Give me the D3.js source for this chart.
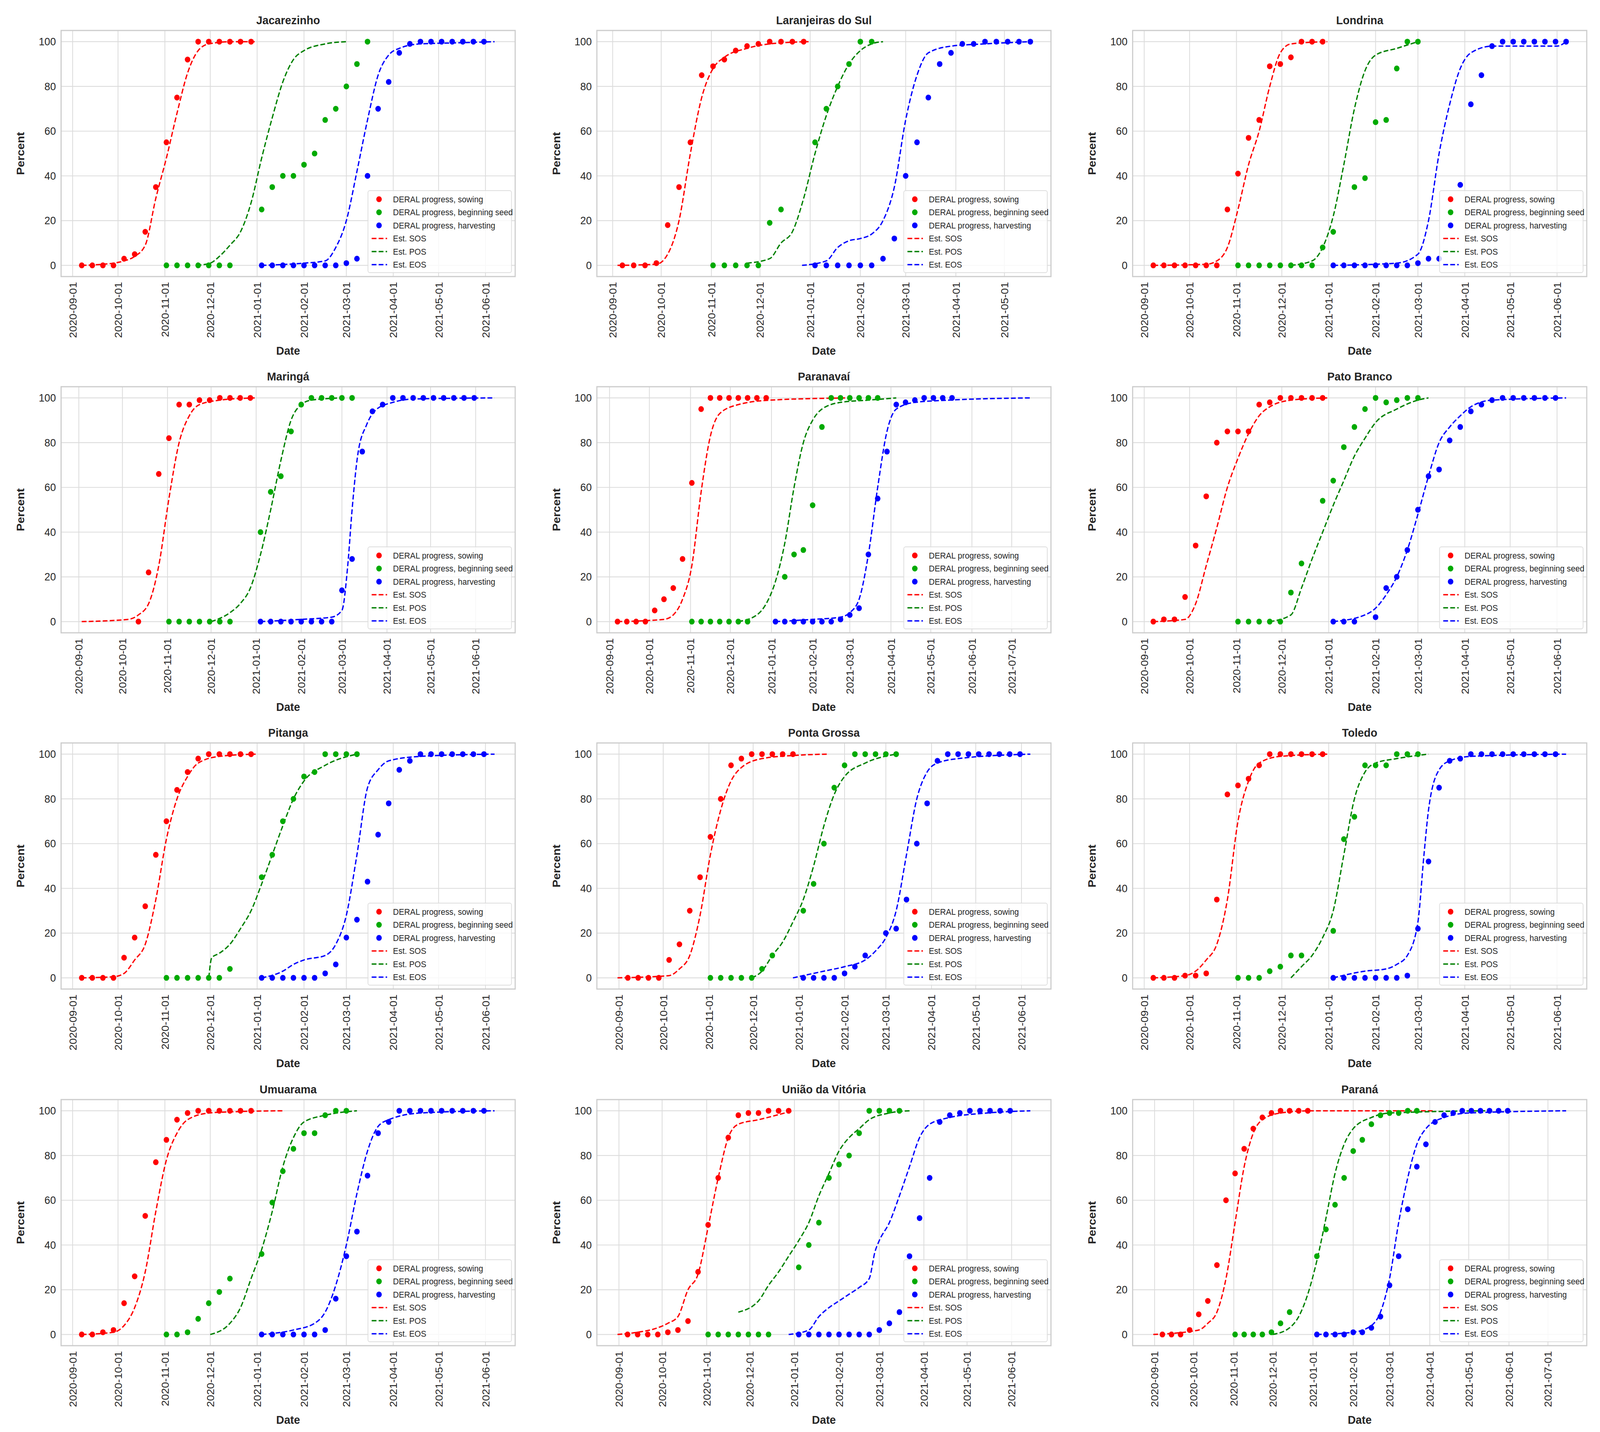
<!DOCTYPE html>
<html><head><meta charset="utf-8">
<script src="https://cdn.jsdelivr.net/npm/d3@7"></script>
<style>html,body{margin:0;padding:0;overflow:hidden;background:#fff;font-family:"Liberation Sans",Arial,sans-serif}svg{display:block}</style>
</head><body>
<script>
// panel names
var names = ["Jacarezinho","Laranjeiras do Sul","Londrina","Maringá","Paranavaí","Pato Branco",
  "Pitanga","Ponta Grossa","Toledo","Umuarama","União da Vitória","Paraná"];

// DERAL weekly reports: first report date of each series
var sowStart  = ["2020-09-07","2020-09-07","2020-09-07","2020-10-12","2020-09-07","2020-09-07",
  "2020-09-07","2020-09-07","2020-09-07","2020-09-07","2020-09-07","2020-09-07"];
var seedStart = ["2020-11-02","2020-11-02","2020-11-02","2020-11-02","2020-11-02","2020-11-02",
  "2020-11-02","2020-11-02","2020-11-02","2020-11-02","2020-11-02","2020-11-02"];
var harvStart = ["2021-01-04","2021-01-04","2021-01-04","2021-01-04","2021-01-04","2021-01-04",
  "2021-01-04","2021-01-04","2021-01-04","2021-01-04","2021-01-04","2021-01-04"];

// weekly progress values (null = no report)
var sowVals = [
  [0,0,0,0,3,5,15,35,55,75,92,100,100,100,100,100,100],
  [0,0,0,1,18,35,55,85,89,92,96,98,99,100,100,100,100],
  [0,0,0,0,0,0,0,25,41,57,65,89,90,93,100,100,100],
  [0,22,66,82,97,97,99,99,100,100,100,100],
  [0,0,0,0,5,10,15,28,62,95,100,100,100,100,100,100,100],
  [0,1,1,11,34,56,80,85,85,85,97,98,100,100,100,100,100],
  [0,0,0,0,9,18,32,55,70,84,92,98,100,100,100,100,100],
  [0,0,0,0,8,15,30,45,63,80,95,98,100,100,100,100,100],
  [0,0,0,1,1,2,35,82,86,89,95,100,100,100,100,100,100],
  [0,0,1,2,14,26,53,77,87,96,99,100,100,100,100,100,100],
  [0,0,0,0,1,2,6,28,49,70,88,98,99,99,100,100,100],
  [0,0,0,2,9,15,31,60,72,83,92,97,99,100,100,100,100]
];
var seedVals = [
  [0,0,0,0,0,0,0,null,null,25,35,40,40,45,50,65,70,80,90,100],
  [0,0,0,0,0,19,25,null,null,55,70,80,90,100,100],
  [0,0,0,0,0,0,0,0,8,15,null,35,39,64,65,88,100,100],
  [0,0,0,0,0,0,0,null,null,40,58,65,85,97,100,100,100,100,100],
  [0,0,0,0,0,0,0,null,null,null,20,30,32,52,87,100,100,100,100,100,100],
  [0,0,0,0,0,13,26,null,54,63,78,87,95,100,98,99,100,100],
  [0,0,0,0,0,0,4,null,null,45,55,70,80,90,92,100,100,100,100],
  [0,0,0,0,0,4,10,null,null,30,42,60,85,95,100,100,100,100,100],
  [0,0,0,3,5,10,10,null,null,21,62,72,95,95,95,100,100,100],
  [0,0,1,7,14,19,25,null,null,36,59,73,83,90,90,98,100,100],
  [0,0,0,0,0,0,0,null,null,30,40,50,70,76,80,90,100,100,100,100],
  [0,0,0,0,1,5,10,null,null,35,47,58,70,82,87,94,98,99,99,100,100]
];
var harvVals = [
  [0,0,0,0,0,0,0,0,1,3,40,70,82,95,99,100,100,100,100,100,100,100],
  [0,0,0,0,0,0,3,12,40,55,75,90,95,99,99,100,100,100,100,100],
  [0,0,0,0,0,0,0,0,1,3,3,null,36,72,85,98,100,100,100,100,100,100,100],
  [0,0,0,0,0,0,0,0,14,28,76,94,97,100,100,100,100,100,100,100,100,100],
  [0,0,0,0,0,0,0,1,3,6,30,55,76,97,98,99,100,100,100,100],
  [0,0,0,null,2,15,20,32,50,65,68,81,87,94,97,99,100,100,100,100,100,100],
  [0,0,0,0,0,0,2,6,18,26,43,64,78,93,97,100,100,100,100,100,100,100],
  [0,0,0,0,2,5,10,null,20,22,35,60,78,97,100,100,100,100,100,100,100,100],
  [0,0,0,0,0,0,0,1,22,52,85,97,98,100,100,100,100,100,100,100,100,100],
  [0,0,0,0,0,0,2,16,35,46,71,90,95,100,100,100,100,100,100,100,100,100],
  [0,0,0,0,0,0,0,0,2,5,10,35,52,70,95,98,99,100,100,100,100,100],
  [0,0,0,0,1,1,3,8,22,35,56,75,85,95,98,99,100,100,100,100,100,100]
];

// estimated curves [date, percent]
var sosCurve = [
  [["2020-09-07",0],["2020-09-28",1],["2020-10-05",2],["2020-10-12",4],["2020-10-19",9],["2020-10-26",30],["2020-11-02",48],["2020-11-09",68],["2020-11-16",86],["2020-11-23",96],["2020-11-30",99],["2020-12-15",100],["2020-12-31",100]],
  [["2020-09-04",0],["2020-09-28",0.5],["2020-10-05",5],["2020-10-12",20],["2020-10-19",50],["2020-10-26",75],["2020-11-02",88],["2020-11-09",93],["2020-11-23",97],["2020-12-07",99],["2020-12-31",100]],
  [["2020-09-07",0],["2020-10-12",0.5],["2020-10-19",2],["2020-10-26",8],["2020-11-02",25],["2020-11-09",45],["2020-11-16",60],["2020-11-23",80],["2020-11-30",95],["2020-12-07",99],["2020-12-31",100]],
  [["2020-09-03",0],["2020-10-05",1],["2020-10-12",3],["2020-10-19",8],["2020-10-26",25],["2020-11-02",55],["2020-11-09",80],["2020-11-16",92],["2020-11-23",97],["2020-12-07",99],["2020-12-31",100]],
  [["2020-09-07",0],["2020-10-12",1],["2020-10-19",3],["2020-10-26",10],["2020-11-02",25],["2020-11-09",58],["2020-11-16",83],["2020-11-23",93],["2020-12-07",97],["2020-12-31",99],["2021-03-01",100]],
  [["2020-09-07",0],["2020-09-28",1],["2020-10-05",8],["2020-10-12",25],["2020-10-19",42],["2020-10-26",60],["2020-11-02",73],["2020-11-09",84],["2020-11-16",92],["2020-11-23",96],["2020-12-07",99],["2020-12-31",100]],
  [["2020-09-07",0],["2020-09-28",0.5],["2020-10-05",2],["2020-10-12",8],["2020-10-19",15],["2020-10-26",35],["2020-11-02",62],["2020-11-09",80],["2020-11-16",90],["2020-11-23",96],["2020-12-07",99],["2020-12-31",100]],
  [["2020-08-31",0],["2020-10-05",1],["2020-10-12",4],["2020-10-19",10],["2020-10-26",28],["2020-11-02",55],["2020-11-09",75],["2020-11-16",88],["2020-11-23",94],["2020-12-07",98],["2020-12-31",99.5],["2021-01-20",100]],
  [["2020-09-07",0],["2020-09-28",1],["2020-10-05",3],["2020-10-12",8],["2020-10-19",15],["2020-10-26",35],["2020-11-02",70],["2020-11-09",88],["2020-11-16",96],["2020-11-30",99],["2020-12-31",100]],
  [["2020-09-07",0],["2020-09-28",1],["2020-10-05",4],["2020-10-12",12],["2020-10-19",28],["2020-10-26",55],["2020-11-02",78],["2020-11-09",90],["2020-11-16",96],["2020-11-30",99],["2020-12-14",99.5],["2021-01-18",100]],
  [["2020-08-31",0],["2020-09-14",1],["2020-09-28",3],["2020-10-05",5],["2020-10-12",8],["2020-10-19",20],["2020-10-26",27],["2020-11-02",48],["2020-11-09",70],["2020-11-16",88],["2020-11-23",94],["2020-12-07",96],["2020-12-31",100]],
  [["2020-08-31",0],["2020-10-05",2],["2020-10-12",5],["2020-10-19",10],["2020-10-26",25],["2020-11-02",50],["2020-11-09",75],["2020-11-16",90],["2020-11-23",96],["2020-12-07",99],["2020-12-31",100],["2021-04-05",100]]
];
var posCurve = [
  [["2020-11-22",0],["2020-12-01",1],["2020-12-07",4],["2020-12-14",9],["2020-12-21",15],["2020-12-28",28],["2021-01-04",48],["2021-01-11",66],["2021-01-18",82],["2021-01-25",92],["2021-02-01",96],["2021-02-15",99],["2021-03-01",100]],
  [["2020-11-23",1],["2020-12-07",3],["2020-12-14",10],["2020-12-21",15],["2020-12-28",30],["2021-01-04",50],["2021-01-11",67],["2021-01-18",80],["2021-01-25",90],["2021-02-01",96],["2021-02-08",99],["2021-02-15",100]],
  [["2020-12-07",0],["2020-12-21",2],["2020-12-28",8],["2021-01-04",22],["2021-01-11",45],["2021-01-18",70],["2021-01-25",87],["2021-02-01",94],["2021-02-15",97],["2021-03-01",100]],
  [["2020-12-01",0],["2020-12-14",4],["2020-12-21",8],["2020-12-28",15],["2021-01-04",30],["2021-01-11",50],["2021-01-18",72],["2021-01-25",90],["2021-02-01",97],["2021-02-08",99],["2021-03-01",100]],
  [["2020-12-07",0],["2020-12-21",3],["2020-12-28",8],["2021-01-04",18],["2021-01-11",35],["2021-01-18",60],["2021-01-25",80],["2021-02-01",90],["2021-02-08",95],["2021-02-22",98],["2021-03-15",99],["2021-04-05",100]],
  [["2020-11-23",0],["2020-12-07",3],["2020-12-14",15],["2020-12-21",28],["2020-12-28",40],["2021-01-04",52],["2021-01-11",63],["2021-01-18",74],["2021-01-25",82],["2021-02-01",89],["2021-02-15",95],["2021-03-01",99],["2021-03-08",100]],
  [["2020-11-30",0],["2020-12-02",9],["2020-12-07",11],["2020-12-14",15],["2020-12-21",22],["2020-12-28",30],["2021-01-04",42],["2021-01-11",55],["2021-01-18",68],["2021-01-25",80],["2021-02-01",88],["2021-02-15",95],["2021-03-08",100]],
  [["2020-11-30",0],["2020-12-07",3],["2020-12-14",10],["2020-12-21",16],["2020-12-28",25],["2021-01-04",35],["2021-01-11",50],["2021-01-18",68],["2021-01-25",82],["2021-02-01",90],["2021-02-15",96],["2021-03-08",100]],
  [["2020-12-07",0],["2020-12-14",5],["2020-12-21",10],["2020-12-28",18],["2021-01-04",30],["2021-01-11",55],["2021-01-18",80],["2021-01-25",92],["2021-02-01",96],["2021-02-15",98],["2021-03-08",100]],
  [["2020-12-01",0],["2020-12-14",5],["2020-12-21",12],["2020-12-28",25],["2021-01-04",38],["2021-01-11",55],["2021-01-18",75],["2021-01-25",88],["2021-02-01",95],["2021-02-15",98],["2021-03-08",100]],
  [["2020-11-23",10],["2020-12-07",15],["2020-12-14",22],["2020-12-21",28],["2020-12-28",35],["2021-01-04",42],["2021-01-11",50],["2021-01-18",62],["2021-01-25",72],["2021-02-01",82],["2021-02-08",88],["2021-02-15",92],["2021-02-22",96],["2021-03-08",99],["2021-03-22",100]],
  [["2020-12-01",0],["2020-12-14",3],["2020-12-21",8],["2020-12-28",18],["2021-01-04",33],["2021-01-11",52],["2021-01-18",72],["2021-01-25",85],["2021-02-01",92],["2021-02-15",97],["2021-03-01",99],["2021-05-15",100]]
];
var eosCurve = [
  [["2021-01-04",0],["2021-02-01",1],["2021-02-15",2],["2021-02-22",8],["2021-03-01",20],["2021-03-08",42],["2021-03-15",65],["2021-03-22",85],["2021-03-29",94],["2021-04-05",97],["2021-04-19",99],["2021-05-15",99.5],["2021-06-07",100]],
  [["2020-12-27",0],["2021-01-11",2],["2021-01-18",8],["2021-01-25",11],["2021-02-01",12],["2021-02-08",14],["2021-02-15",20],["2021-02-22",35],["2021-03-01",65],["2021-03-08",85],["2021-03-15",95],["2021-03-29",98],["2021-04-19",99],["2021-05-17",100]],
  [["2021-01-04",0],["2021-02-15",1],["2021-03-01",5],["2021-03-08",20],["2021-03-15",50],["2021-03-22",72],["2021-03-29",88],["2021-04-05",95],["2021-04-19",98],["2021-06-01",98],["2021-06-07",100]],
  [["2021-01-04",0],["2021-02-01",1],["2021-02-22",2],["2021-03-01",5],["2021-03-05",25],["2021-03-08",50],["2021-03-12",75],["2021-03-18",88],["2021-03-25",95],["2021-04-05",98],["2021-04-19",99.5],["2021-06-14",100]],
  [["2021-01-04",0],["2021-02-01",1],["2021-02-22",2],["2021-03-01",4],["2021-03-08",10],["2021-03-15",30],["2021-03-22",60],["2021-03-29",85],["2021-04-05",95],["2021-04-19",98],["2021-05-15",99],["2021-07-15",100]],
  [["2021-01-04",0],["2021-01-25",3],["2021-02-01",6],["2021-02-08",12],["2021-02-15",20],["2021-02-22",32],["2021-03-01",48],["2021-03-08",65],["2021-03-15",80],["2021-03-22",87],["2021-03-29",92],["2021-04-05",96],["2021-04-19",99],["2021-06-07",100]],
  [["2021-01-04",0],["2021-01-18",3],["2021-01-25",6],["2021-02-01",8],["2021-02-15",10],["2021-02-22",15],["2021-03-01",28],["2021-03-08",55],["2021-03-15",85],["2021-03-22",93],["2021-03-29",97],["2021-04-19",99],["2021-06-07",100]],
  [["2020-12-28",0],["2021-01-18",3],["2021-02-01",5],["2021-02-15",8],["2021-02-22",12],["2021-03-01",18],["2021-03-08",30],["2021-03-15",55],["2021-03-22",80],["2021-03-29",92],["2021-04-05",96],["2021-04-19",98],["2021-06-07",100]],
  [["2021-01-04",0],["2021-01-25",3],["2021-02-08",4],["2021-02-15",6],["2021-02-22",10],["2021-03-01",25],["2021-03-05",55],["2021-03-08",75],["2021-03-15",93],["2021-03-22",97],["2021-04-05",99],["2021-06-07",100]],
  [["2021-01-04",0],["2021-01-25",2],["2021-02-08",5],["2021-02-15",10],["2021-02-22",22],["2021-03-01",40],["2021-03-08",63],["2021-03-15",82],["2021-03-22",93],["2021-03-29",96],["2021-04-19",99],["2021-06-07",100]],
  [["2020-12-28",0],["2021-01-11",2],["2021-01-18",8],["2021-01-25",12],["2021-02-01",15],["2021-02-08",18],["2021-02-15",21],["2021-02-22",25],["2021-02-26",37],["2021-03-01",42],["2021-03-08",50],["2021-03-15",62],["2021-03-22",75],["2021-03-29",88],["2021-04-05",94],["2021-04-19",97],["2021-05-15",99],["2021-06-14",100]],
  [["2021-01-04",0],["2021-02-01",1],["2021-02-15",4],["2021-02-22",10],["2021-03-01",25],["2021-03-08",50],["2021-03-15",70],["2021-03-22",85],["2021-03-29",92],["2021-04-12",97],["2021-05-01",99],["2021-07-15",100]]
];

var yTicks = [0,20,40,60,80,100];
var legendLabels = ["DERAL progress, sowing","DERAL progress, beginning seed","DERAL progress, harvesting","Est. SOS","Est. POS","Est. EOS"];
var colors = ["#ff0000","#00aa00","#0000ff"];
var lineColors = ["#ff0000","#008000","#0000ff"];

// layout (drawing units = reference pixels, scaled to the window)
var W = 4348, H = 3666;
var lefts = [166,1622,3078], tops = [78,990,1902,2815];
var pw = 1234, ph = 630;

var parse = d3.utcParse("%Y-%m-%d");
var fmt = d3.utcFormat("%Y-%m-%d");

var svg = d3.select("body").append("svg")
  .attr("viewBox", "0 0 " + W + " " + H).attr("preserveAspectRatio", "none")
  .style("width", "100vw").style("height", "100vh")
  .style("font-family", '"Liberation Sans", Arial, sans-serif');

function weekly(start, vals) {
  var s = parse(start);
  return vals.map(function(v, i){ return {d: d3.utcDay.offset(s, 7*i), v: v}; })
             .filter(function(p){ return p.v !== null; });
}

names.forEach(function(name, k) {
  var ox = lefts[k % 3], oy = tops[Math.floor(k / 3)];
  var g = svg.append("g").attr("transform", "translate(" + ox + "," + oy + ")");

  var pts = [weekly(sowStart[k], sowVals[k]), weekly(seedStart[k], seedVals[k]), weekly(harvStart[k], harvVals[k])];
  var curves = [sosCurve[k], posCurve[k], eosCurve[k]].map(function(c){
    return c.map(function(p){ return {d: parse(p[0]), v: p[1]}; });
  });

  // x range with matplotlib-like 5% margins
  var all = d3.merge(pts.concat(curves)).map(function(p){ return +p.d; });
  var lo = d3.min(all), hi = d3.max(all), m = (hi - lo) * 0.05;
  var x = d3.scaleUtc().domain([new Date(lo - m), new Date(hi + m)]).range([0, pw]);
  var y = d3.scaleLinear().domain([-5, 105]).range([ph, 0]);
  var months = d3.utcMonth.range(new Date(lo - m), new Date(hi + m));

  // grid
  g.append("g").selectAll("line").data(months).join("line")
    .attr("x1", d => x(d)).attr("x2", d => x(d)).attr("y1", 0).attr("y2", ph)
    .attr("stroke", "#dcdcdc").attr("stroke-width", 2.2);
  g.append("g").selectAll("line").data(yTicks).join("line")
    .attr("x1", 0).attr("x2", pw).attr("y1", d => y(d)).attr("y2", d => y(d))
    .attr("stroke", "#dcdcdc").attr("stroke-width", 2.2);
  g.append("rect").attr("width", pw).attr("height", ph).attr("fill", "none")
    .attr("stroke", "#cccccc").attr("stroke-width", 3);

  // axes
  var xa = g.append("g").attr("transform", "translate(0," + ph + ")")
    .call(d3.axisBottom(x).tickValues(months).tickFormat(fmt).tickSize(0).tickPadding(12));
  xa.select(".domain").remove();
  xa.selectAll("text").attr("transform", "rotate(-90)").attr("text-anchor", "end")
    .attr("x", -14).attr("y", 0).attr("dy", "0.35em")
    .style("font-size", "28px").style("font-family", '"Liberation Sans", Arial, sans-serif').attr("fill", "#262626");
  var ya = g.append("g").call(d3.axisLeft(y).tickValues(yTicks).tickSize(0).tickPadding(14));
  ya.select(".domain").remove();
  ya.selectAll("text").style("font-size", "28px").style("font-family", '"Liberation Sans", Arial, sans-serif').attr("fill", "#262626");

  // labels
  g.append("text").attr("x", pw/2).attr("y", -16).attr("text-anchor", "middle")
    .style("font-size", "30px").style("font-weight", "bold").attr("fill", "#262626").text(name);
  g.append("text").attr("x", pw/2).attr("y", ph + 200).attr("text-anchor", "middle")
    .style("font-size", "30px").style("font-weight", "bold").attr("fill", "#262626").text("Date");
  g.append("text").attr("transform", "translate(-100," + ph/2 + ") rotate(-90)").attr("text-anchor", "middle")
    .style("font-size", "30px").style("font-weight", "bold").attr("fill", "#262626").text("Percent");

  // curves
  var line = d3.line().x(d => x(d.d)).y(d => y(d.v)).curve(d3.curveMonotoneX);
  curves.forEach(function(c, i) {
    g.append("path").datum(c).attr("d", line).attr("fill", "none")
      .attr("stroke", lineColors[i]).attr("stroke-width", 3.5).attr("stroke-dasharray", "13,6");
  });

  // points
  pts.forEach(function(s, i) {
    g.append("g").selectAll("circle").data(s).join("circle")
      .attr("cx", d => x(d.d)).attr("cy", d => y(d.v)).attr("r", 7.5).attr("fill", colors[i]);
  });

  // legend
  var lw = 390, lh = 210, lx = pw - lw - 10, ly = ph - lh - 10;
  var lg = g.append("g").attr("transform", "translate(" + lx + "," + ly + ")");
  lg.append("rect").attr("width", lw).attr("height", lh).attr("rx", 5)
    .attr("fill", "#fff").attr("fill-opacity", 0.8).attr("stroke", "#dddddd").attr("stroke-width", 2);
  legendLabels.forEach(function(t, i) {
    var yy = 22 + i * 33.5;
    if (i < 3) lg.append("circle").attr("cx", 30).attr("cy", yy).attr("r", 7.5).attr("fill", colors[i]);
    else lg.append("line").attr("x1", 10).attr("x2", 52).attr("y1", yy).attr("y2", yy)
      .attr("stroke", lineColors[i-3]).attr("stroke-width", 3.5).attr("stroke-dasharray", "13,6");
    lg.append("text").attr("x", 68).attr("y", yy).attr("dy", "0.35em")
      .style("font-size", "22px").attr("fill", "#262626").text(t);
  });
});
</script>
</body></html>
